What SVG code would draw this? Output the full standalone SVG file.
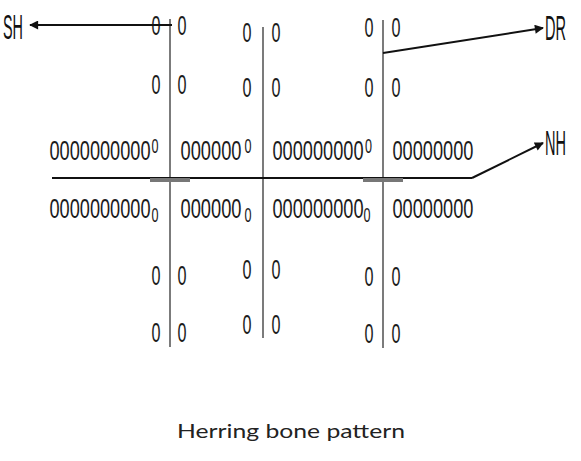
<svg xmlns="http://www.w3.org/2000/svg" width="581" height="461" viewBox="0 0 581 461">
<style>
.z{font-family:"Liberation Sans",Arial,sans-serif;font-size:27px;fill:#1c1c1c}
.zs{font-family:"Liberation Sans",Arial,sans-serif;font-size:20px;fill:#1c1c1c}
.lbl{font-family:"Liberation Sans",Arial,sans-serif;font-size:35px;fill:#111}
.cap{font-family:Lato,"Open Sans",sans-serif;font-size:19px;fill:#222}
.v{stroke:#5a5a5a;stroke-width:1.6;fill:none}
.arr{stroke:#111;stroke-width:2;fill:none;marker-end:url(#ah)}
</style>
<defs>
<marker id="ah" viewBox="0 0 10 10" refX="9" refY="5" markerWidth="11" markerHeight="9" orient="auto" markerUnits="userSpaceOnUse">
<path d="M0,0 L10,5 L0,10 z" fill="#111"/>
</marker>
</defs>
<rect width="581" height="461" fill="#fff"/>

<g id="laterals">
<line class="v" x1="170" y1="19" x2="170" y2="347"/>
<line class="v" x1="263" y1="27" x2="263" y2="338"/>
<line class="v" x1="383" y1="20" x2="383" y2="348"/>
</g>

<g id="main-drain">
<line x1="52" y1="178" x2="472" y2="178" stroke="#111" stroke-width="2"/>
<rect x="150" y="178" width="40" height="4" fill="#777"/>
<rect x="363" y="178" width="40" height="4" fill="#777"/>
</g>

<g id="column-1">
<text class="z" x="151.5" y="35" textLength="9" lengthAdjust="spacingAndGlyphs">0</text>
<text class="z" x="177.5" y="35" textLength="9" lengthAdjust="spacingAndGlyphs">0</text>
<text class="z" x="151.5" y="94" textLength="9" lengthAdjust="spacingAndGlyphs">0</text>
<text class="z" x="177.5" y="94" textLength="9" lengthAdjust="spacingAndGlyphs">0</text>
<text class="z" x="151.5" y="285" textLength="9" lengthAdjust="spacingAndGlyphs">0</text>
<text class="z" x="177.5" y="285" textLength="9" lengthAdjust="spacingAndGlyphs">0</text>
<text class="z" x="151.5" y="342" textLength="9" lengthAdjust="spacingAndGlyphs">0</text>
<text class="z" x="177.5" y="342" textLength="9" lengthAdjust="spacingAndGlyphs">0</text>
</g>

<g id="column-2">
<text class="z" x="242.5" y="42" textLength="9" lengthAdjust="spacingAndGlyphs">0</text>
<text class="z" x="271.5" y="42" textLength="9" lengthAdjust="spacingAndGlyphs">0</text>
<text class="z" x="242.5" y="97" textLength="9" lengthAdjust="spacingAndGlyphs">0</text>
<text class="z" x="271.5" y="97" textLength="9" lengthAdjust="spacingAndGlyphs">0</text>
<text class="z" x="242.5" y="279" textLength="9" lengthAdjust="spacingAndGlyphs">0</text>
<text class="z" x="271.5" y="279" textLength="9" lengthAdjust="spacingAndGlyphs">0</text>
<text class="z" x="242.5" y="334" textLength="9" lengthAdjust="spacingAndGlyphs">0</text>
<text class="z" x="271.5" y="334" textLength="9" lengthAdjust="spacingAndGlyphs">0</text>
</g>

<g id="column-3">
<text class="z" x="364.5" y="37" textLength="9" lengthAdjust="spacingAndGlyphs">0</text>
<text class="z" x="391.5" y="37" textLength="9" lengthAdjust="spacingAndGlyphs">0</text>
<text class="z" x="364.5" y="97" textLength="9" lengthAdjust="spacingAndGlyphs">0</text>
<text class="z" x="391.5" y="97" textLength="9" lengthAdjust="spacingAndGlyphs">0</text>
<text class="z" x="364.5" y="286" textLength="9" lengthAdjust="spacingAndGlyphs">0</text>
<text class="z" x="391.5" y="286" textLength="9" lengthAdjust="spacingAndGlyphs">0</text>
<text class="z" x="364.5" y="343" textLength="9" lengthAdjust="spacingAndGlyphs">0</text>
<text class="z" x="391.5" y="343" textLength="9" lengthAdjust="spacingAndGlyphs">0</text>
</g>

<g id="upper-row">
<text class="z" x="49.5" y="160" textLength="101" lengthAdjust="spacingAndGlyphs">0000000000</text>
<text class="zs" x="151.5" y="153" textLength="7" lengthAdjust="spacingAndGlyphs">0</text>
<text class="z" x="180.5" y="160" textLength="61" lengthAdjust="spacingAndGlyphs">000000</text>
<text class="zs" x="244.5" y="153" textLength="7" lengthAdjust="spacingAndGlyphs">0</text>
<text class="z" x="272.5" y="160" textLength="91" lengthAdjust="spacingAndGlyphs">000000000</text>
<text class="zs" x="365" y="153" textLength="7" lengthAdjust="spacingAndGlyphs">0</text>
<text class="z" x="392.5" y="160" textLength="81" lengthAdjust="spacingAndGlyphs">00000000</text>
</g>

<g id="lower-row">
<text class="z" x="49.5" y="218" textLength="101" lengthAdjust="spacingAndGlyphs">0000000000</text>
<text class="zs" x="151.5" y="222" textLength="7" lengthAdjust="spacingAndGlyphs">0</text>
<text class="z" x="180.5" y="218" textLength="61" lengthAdjust="spacingAndGlyphs">000000</text>
<text class="zs" x="244.5" y="222" textLength="7" lengthAdjust="spacingAndGlyphs">0</text>
<text class="z" x="272.5" y="218" textLength="91" lengthAdjust="spacingAndGlyphs">000000000</text>
<text class="zs" x="363.5" y="222" textLength="7" lengthAdjust="spacingAndGlyphs">0</text>
<text class="z" x="392.5" y="218" textLength="81" lengthAdjust="spacingAndGlyphs">00000000</text>
</g>

<g id="connectors">
<path class="arr" d="M172,25 H30"/>
<path class="arr" d="M383,53 L543,28"/>
<path class="arr" d="M472,178 L543,143"/>
</g>

<g id="label-SH"><text class="lbl" x="3" y="39" textLength="20" lengthAdjust="spacingAndGlyphs">SH</text></g>
<g id="label-DR"><text class="lbl" x="545" y="40" textLength="21" lengthAdjust="spacingAndGlyphs">DR</text></g>
<g id="label-NH"><text class="lbl" x="545" y="155" textLength="21" lengthAdjust="spacingAndGlyphs">NH</text></g>

<g id="caption"><text class="cap" x="177" y="438" textLength="228" lengthAdjust="spacingAndGlyphs">Herring bone pattern</text></g>
</svg>
